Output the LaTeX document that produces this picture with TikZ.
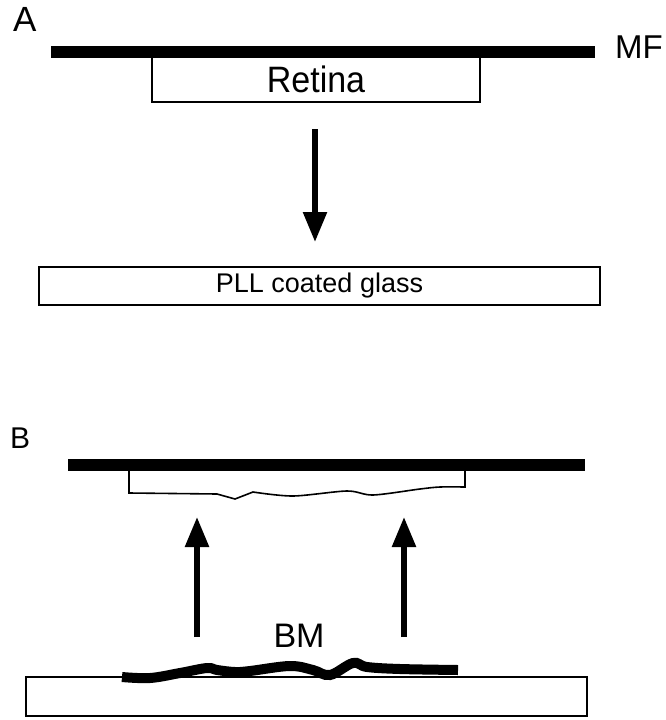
\documentclass[tikz,border=0pt]{standalone}
\usepackage{fontspec}
\setmainfont{Liberation Sans}
\usetikzlibrary{arrows.meta}
\tikzset{
  bar/.style={line width=12pt},
  slide/.style={draw,line width=2pt,inner sep=0pt},
  move/.style={-{Triangle[length=30pt,width=23pt]},line width=5.5pt},
  tag/.style={inner sep=0pt,font=\fontsize{34}{38}\selectfont}
}

\begin{document}
\begin{tikzpicture}[x=1pt,y=-1pt]
    \useasboundingbox (0,0) rectangle (666,720);
    % A: retina on membrane filter, moved onto glass
    \node[tag,anchor=base west,font=\fontsize{35}{38}\selectfont] (labelA) at (13,31) {A};
    \coordinate (mfleft) at (51,52);
    \coordinate (mfright) at (595,52);
    \draw[bar] (mfleft) -- (mfright);
    \node[tag,anchor=base west,font=\fontsize{33}{36}\selectfont] (mf) at (615,58) {MF};
    \node[slide,minimum width=328pt,minimum height=42pt,tag,yscale=1.08] (retina) at (316,79) {Retina};
    \node[slide,minimum width=561pt,minimum height=38pt,font=\fontsize{27}{30}\selectfont] (glass) at (319.5,286) {PLL coated glass};
    \coordinate (downtop) at (315,129);
    \coordinate (downend) at (315,242);
    \draw[move] (downtop) -- (downend);
    % B: filter peeled off, BM stays on glass
    \node[tag,anchor=base west,font=\fontsize{30}{34}\selectfont] (labelB) at (10,448) {B};
    \coordinate (bleft) at (68,465);
    \coordinate (bright) at (585,465);
    \draw[bar] (bleft) -- (bright);
    \draw[line width=1.6pt] (129,471) -- (129,493) -- (217,494) -- (235,499) -- plot[smooth] coordinates {(253,492) (293,496) (347,491) (373,495) (420,489) (440,487) (465,487)} -- (465,471);
    \node[slide,minimum width=561pt,minimum height=39pt,line width=2.5pt] (glassB) at (306.5,696.5) {};
    \draw[line width=10pt] plot[smooth,tension=0.6] coordinates {(122,677) (150,678) (180,673) (207,668) (217,670) (235,672) (250,671) (290,666) (313,670) (330,675) (353,663) (367,667) (400,669) (458,670)};
    \node[tag,anchor=base] (bm) at (299,647) {BM};
    \foreach \x [count=\i] in {197,404} {
      \coordinate (upfoot\i) at (\x,637);
      \coordinate (uptip\i) at (\x,517);
      \draw[move] (upfoot\i) -- (uptip\i);
    }
\end{tikzpicture}
\end{document}
